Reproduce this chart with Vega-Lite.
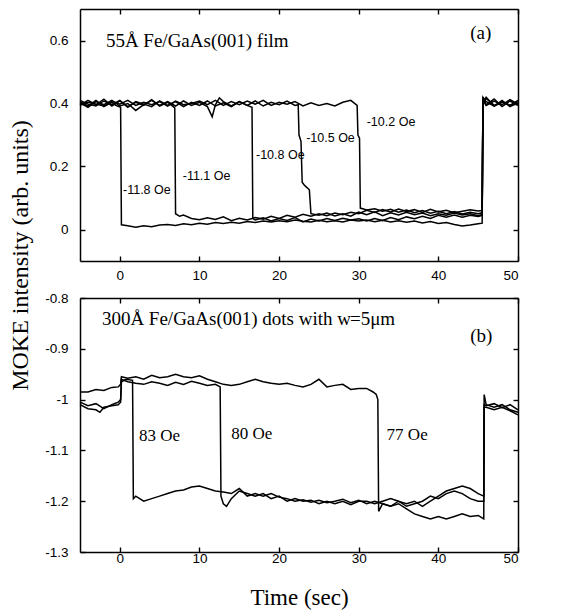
{
  "$schema": "https://vega.github.io/schema/vega-lite/v6.json",
  "background": "white",
  "padding": {"left": 8, "top": 8, "right": 5, "bottom": 5},
  "bounds": "flush",
  "spacing": 37,
  "config": {
    "view": {"stroke": null},
    "axis": {
      "labelFont": "Liberation Sans", "labelFontSize": 13.5, "labelColor": "black",
      "tickColor": "black", "tickSize": -5, "tickWidth": 1.4, "domain": true, "domainColor": "black", "domainWidth": 1.5, "grid": false,
      "titleFont": "Liberation Serif", "titleFontWeight": "normal", "titleColor": "black",
      "labelExpr": "datum.value < 0 ? '-' + format(-datum.value, '~g') : format(datum.value, '~g')"
    }
  },
  "datasets": {
    "a": [
      {"s":"a1","x":-5,"y":0.406},{"s":"a1","x":-4,"y":0.392},{"s":"a1","x":-3,"y":0.41},{"s":"a1","x":-2,"y":0.39},{"s":"a1","x":-1,"y":0.404},{"s":"a1","x":-0.5,"y":0.394},{"s":"a1","x":0.1,"y":0.388},{"s":"a1","x":0.2,"y":0.015},{"s":"a1","x":1,"y":0.012},{"s":"a1","x":2,"y":0.007},{"s":"a1","x":3,"y":0.012},{"s":"a1","x":4,"y":0.009},{"s":"a1","x":5,"y":0.014},{"s":"a1","x":6,"y":0.016},{"s":"a1","x":7,"y":0.013},{"s":"a1","x":8,"y":0.018},{"s":"a1","x":9,"y":0.015},{"s":"a1","x":10,"y":0.02},{"s":"a1","x":11,"y":0.017},{"s":"a1","x":12,"y":0.022},{"s":"a1","x":13,"y":0.019},{"s":"a1","x":14,"y":0.023},{"s":"a1","x":15,"y":0.02},{"s":"a1","x":16,"y":0.025},{"s":"a1","x":17,"y":0.022},{"s":"a1","x":18,"y":0.027},{"s":"a1","x":19,"y":0.024},{"s":"a1","x":20,"y":0.028},{"s":"a1","x":21,"y":0.025},{"s":"a1","x":22,"y":0.03},{"s":"a1","x":23,"y":0.026},{"s":"a1","x":24,"y":0.024},{"s":"a1","x":25,"y":0.029},{"s":"a1","x":26,"y":0.025},{"s":"a1","x":27,"y":0.028},{"s":"a1","x":28,"y":0.024},{"s":"a1","x":29,"y":0.03},{"s":"a1","x":30,"y":0.027},{"s":"a1","x":31,"y":0.03},{"s":"a1","x":32,"y":0.025},{"s":"a1","x":33,"y":0.029},{"s":"a1","x":34,"y":0.024},{"s":"a1","x":35,"y":0.028},{"s":"a1","x":36,"y":0.023},{"s":"a1","x":37,"y":0.027},{"s":"a1","x":38,"y":0.021},{"s":"a1","x":39,"y":0.025},{"s":"a1","x":40,"y":0.019},{"s":"a1","x":41,"y":0.022},{"s":"a1","x":42,"y":0.016},{"s":"a1","x":43,"y":0.011},{"s":"a1","x":44,"y":0.014},{"s":"a1","x":45,"y":0.018},{"s":"a1","x":45.5,"y":0.02},{"s":"a1","x":45.6,"y":0.42},{"s":"a1","x":46,"y":0.406},{"s":"a1","x":47,"y":0.392},{"s":"a1","x":48,"y":0.41},{"s":"a1","x":49,"y":0.39},{"s":"a1","x":50,"y":0.402},
      {"s":"a2","x":-5,"y":0.394},{"s":"a2","x":-4,"y":0.41},{"s":"a2","x":-3,"y":0.396},{"s":"a2","x":-2,"y":0.414},{"s":"a2","x":-1,"y":0.392},{"s":"a2","x":0,"y":0.408},{"s":"a2","x":1,"y":0.39},{"s":"a2","x":2,"y":0.404},{"s":"a2","x":3,"y":0.394},{"s":"a2","x":4,"y":0.412},{"s":"a2","x":5,"y":0.392},{"s":"a2","x":6,"y":0.404},{"s":"a2","x":6.9,"y":0.386},{"s":"a2","x":7,"y":0.05},{"s":"a2","x":7.5,"y":0.042},{"s":"a2","x":8,"y":0.046},{"s":"a2","x":9,"y":0.035},{"s":"a2","x":10,"y":0.031},{"s":"a2","x":11,"y":0.037},{"s":"a2","x":12,"y":0.032},{"s":"a2","x":13,"y":0.04},{"s":"a2","x":14,"y":0.028},{"s":"a2","x":15,"y":0.036},{"s":"a2","x":16,"y":0.03},{"s":"a2","x":17,"y":0.038},{"s":"a2","x":18,"y":0.033},{"s":"a2","x":19,"y":0.042},{"s":"a2","x":20,"y":0.035},{"s":"a2","x":21,"y":0.045},{"s":"a2","x":22,"y":0.039},{"s":"a2","x":23,"y":0.048},{"s":"a2","x":24,"y":0.042},{"s":"a2","x":25,"y":0.05},{"s":"a2","x":26,"y":0.044},{"s":"a2","x":27,"y":0.052},{"s":"a2","x":28,"y":0.047},{"s":"a2","x":29,"y":0.055},{"s":"a2","x":30,"y":0.05},{"s":"a2","x":31,"y":0.061},{"s":"a2","x":32,"y":0.054},{"s":"a2","x":33,"y":0.063},{"s":"a2","x":34,"y":0.056},{"s":"a2","x":35,"y":0.065},{"s":"a2","x":36,"y":0.057},{"s":"a2","x":37,"y":0.063},{"s":"a2","x":38,"y":0.054},{"s":"a2","x":39,"y":0.064},{"s":"a2","x":40,"y":0.056},{"s":"a2","x":41,"y":0.061},{"s":"a2","x":42,"y":0.053},{"s":"a2","x":43,"y":0.058},{"s":"a2","x":44,"y":0.063},{"s":"a2","x":45,"y":0.059},{"s":"a2","x":45.5,"y":0.06},{"s":"a2","x":45.6,"y":0.42},{"s":"a2","x":46,"y":0.396},{"s":"a2","x":47,"y":0.414},{"s":"a2","x":48,"y":0.39},{"s":"a2","x":49,"y":0.408},{"s":"a2","x":50,"y":0.394},
      {"s":"a3","x":-5,"y":0.402},{"s":"a3","x":-4,"y":0.388},{"s":"a3","x":-3,"y":0.406},{"s":"a3","x":-2,"y":0.396},{"s":"a3","x":-1,"y":0.41},{"s":"a3","x":0,"y":0.392},{"s":"a3","x":1,"y":0.4},{"s":"a3","x":2,"y":0.378},{"s":"a3","x":3,"y":0.396},{"s":"a3","x":4,"y":0.41},{"s":"a3","x":5,"y":0.394},{"s":"a3","x":6,"y":0.406},{"s":"a3","x":7,"y":0.392},{"s":"a3","x":8,"y":0.408},{"s":"a3","x":9,"y":0.394},{"s":"a3","x":10,"y":0.404},{"s":"a3","x":11,"y":0.39},{"s":"a3","x":11.6,"y":0.358},{"s":"a3","x":12,"y":0.396},{"s":"a3","x":12.5,"y":0.418},{"s":"a3","x":13,"y":0.406},{"s":"a3","x":14,"y":0.392},{"s":"a3","x":15,"y":0.406},{"s":"a3","x":16,"y":0.394},{"s":"a3","x":16.6,"y":0.388},{"s":"a3","x":16.7,"y":0.035},{"s":"a3","x":17,"y":0.03},{"s":"a3","x":18,"y":0.037},{"s":"a3","x":19,"y":0.027},{"s":"a3","x":20,"y":0.035},{"s":"a3","x":21,"y":0.029},{"s":"a3","x":22,"y":0.038},{"s":"a3","x":23,"y":0.024},{"s":"a3","x":24,"y":0.033},{"s":"a3","x":25,"y":0.027},{"s":"a3","x":26,"y":0.035},{"s":"a3","x":27,"y":0.029},{"s":"a3","x":28,"y":0.036},{"s":"a3","x":29,"y":0.03},{"s":"a3","x":30,"y":0.034},{"s":"a3","x":31,"y":0.027},{"s":"a3","x":32,"y":0.035},{"s":"a3","x":33,"y":0.029},{"s":"a3","x":34,"y":0.038},{"s":"a3","x":35,"y":0.031},{"s":"a3","x":36,"y":0.04},{"s":"a3","x":37,"y":0.034},{"s":"a3","x":38,"y":0.042},{"s":"a3","x":39,"y":0.035},{"s":"a3","x":40,"y":0.045},{"s":"a3","x":41,"y":0.039},{"s":"a3","x":42,"y":0.046},{"s":"a3","x":43,"y":0.039},{"s":"a3","x":44,"y":0.045},{"s":"a3","x":45,"y":0.041},{"s":"a3","x":45.5,"y":0.045},{"s":"a3","x":45.6,"y":0.4},{"s":"a3","x":46,"y":0.416},{"s":"a3","x":47,"y":0.394},{"s":"a3","x":48,"y":0.406},{"s":"a3","x":49,"y":0.394},{"s":"a3","x":50,"y":0.41},
      {"s":"a4","x":-5,"y":0.41},{"s":"a4","x":-4,"y":0.398},{"s":"a4","x":-3,"y":0.392},{"s":"a4","x":-2,"y":0.408},{"s":"a4","x":-1,"y":0.396},{"s":"a4","x":0,"y":0.41},{"s":"a4","x":1,"y":0.388},{"s":"a4","x":2,"y":0.406},{"s":"a4","x":3,"y":0.398},{"s":"a4","x":4,"y":0.39},{"s":"a4","x":5,"y":0.408},{"s":"a4","x":6,"y":0.394},{"s":"a4","x":7,"y":0.406},{"s":"a4","x":8,"y":0.39},{"s":"a4","x":9,"y":0.404},{"s":"a4","x":10,"y":0.394},{"s":"a4","x":11,"y":0.408},{"s":"a4","x":12,"y":0.392},{"s":"a4","x":13,"y":0.402},{"s":"a4","x":14,"y":0.39},{"s":"a4","x":15,"y":0.406},{"s":"a4","x":16,"y":0.394},{"s":"a4","x":17,"y":0.408},{"s":"a4","x":18,"y":0.392},{"s":"a4","x":19,"y":0.404},{"s":"a4","x":20,"y":0.396},{"s":"a4","x":21,"y":0.408},{"s":"a4","x":22,"y":0.394},{"s":"a4","x":22.4,"y":0.396},{"s":"a4","x":22.5,"y":0.3},{"s":"a4","x":22.75,"y":0.28},{"s":"a4","x":22.9,"y":0.15},{"s":"a4","x":23.2,"y":0.14},{"s":"a4","x":23.8,"y":0.126},{"s":"a4","x":24,"y":0.05},{"s":"a4","x":25,"y":0.045},{"s":"a4","x":26,"y":0.052},{"s":"a4","x":27,"y":0.043},{"s":"a4","x":28,"y":0.05},{"s":"a4","x":29,"y":0.042},{"s":"a4","x":30,"y":0.055},{"s":"a4","x":31,"y":0.047},{"s":"a4","x":32,"y":0.056},{"s":"a4","x":33,"y":0.044},{"s":"a4","x":34,"y":0.053},{"s":"a4","x":35,"y":0.046},{"s":"a4","x":36,"y":0.055},{"s":"a4","x":37,"y":0.047},{"s":"a4","x":38,"y":0.052},{"s":"a4","x":39,"y":0.044},{"s":"a4","x":40,"y":0.05},{"s":"a4","x":41,"y":0.045},{"s":"a4","x":42,"y":0.052},{"s":"a4","x":43,"y":0.046},{"s":"a4","x":44,"y":0.05},{"s":"a4","x":45,"y":0.044},{"s":"a4","x":45.5,"y":0.048},{"s":"a4","x":45.6,"y":0.41},{"s":"a4","x":46,"y":0.394},{"s":"a4","x":47,"y":0.408},{"s":"a4","x":48,"y":0.396},{"s":"a4","x":49,"y":0.412},{"s":"a4","x":50,"y":0.398},
      {"s":"a5","x":-5,"y":0.396},{"s":"a5","x":-4,"y":0.404},{"s":"a5","x":-3,"y":0.398},{"s":"a5","x":-2,"y":0.392},{"s":"a5","x":-1,"y":0.408},{"s":"a5","x":0,"y":0.398},{"s":"a5","x":1,"y":0.41},{"s":"a5","x":2,"y":0.394},{"s":"a5","x":3,"y":0.404},{"s":"a5","x":4,"y":0.396},{"s":"a5","x":5,"y":0.406},{"s":"a5","x":6,"y":0.392},{"s":"a5","x":7,"y":0.408},{"s":"a5","x":8,"y":0.396},{"s":"a5","x":9,"y":0.4},{"s":"a5","x":10,"y":0.408},{"s":"a5","x":11,"y":0.396},{"s":"a5","x":12,"y":0.41},{"s":"a5","x":13,"y":0.394},{"s":"a5","x":14,"y":0.406},{"s":"a5","x":15,"y":0.396},{"s":"a5","x":16,"y":0.408},{"s":"a5","x":17,"y":0.398},{"s":"a5","x":18,"y":0.41},{"s":"a5","x":19,"y":0.394},{"s":"a5","x":20,"y":0.404},{"s":"a5","x":21,"y":0.398},{"s":"a5","x":22,"y":0.406},{"s":"a5","x":23,"y":0.392},{"s":"a5","x":24,"y":0.402},{"s":"a5","x":25,"y":0.394},{"s":"a5","x":26,"y":0.4},{"s":"a5","x":27,"y":0.392},{"s":"a5","x":28,"y":0.404},{"s":"a5","x":29,"y":0.41},{"s":"a5","x":29.8,"y":0.394},{"s":"a5","x":29.9,"y":0.3},{"s":"a5","x":30.1,"y":0.29},{"s":"a5","x":30.2,"y":0.068},{"s":"a5","x":31,"y":0.062},{"s":"a5","x":32,"y":0.066},{"s":"a5","x":33,"y":0.058},{"s":"a5","x":34,"y":0.064},{"s":"a5","x":35,"y":0.055},{"s":"a5","x":36,"y":0.062},{"s":"a5","x":37,"y":0.053},{"s":"a5","x":38,"y":0.06},{"s":"a5","x":39,"y":0.052},{"s":"a5","x":40,"y":0.058},{"s":"a5","x":41,"y":0.05},{"s":"a5","x":42,"y":0.057},{"s":"a5","x":43,"y":0.049},{"s":"a5","x":44,"y":0.055},{"s":"a5","x":45,"y":0.05},{"s":"a5","x":45.5,"y":0.053},{"s":"a5","x":45.6,"y":0.405},{"s":"a5","x":46,"y":0.42},{"s":"a5","x":47,"y":0.392},{"s":"a5","x":48,"y":0.404},{"s":"a5","x":49,"y":0.394},{"s":"a5","x":50,"y":0.406}
    ],
    "b": [
      {"s":"b1","x":-5,"y":-1.005},{"s":"b1","x":-4,"y":-1.012},{"s":"b1","x":-3,"y":-1.008},{"s":"b1","x":-2,"y":-1.018},{"s":"b1","x":-1,"y":-1.01},{"s":"b1","x":-0.2,"y":-1.005},{"s":"b1","x":0.1,"y":-1.0},{"s":"b1","x":0.2,"y":-0.965},{"s":"b1","x":0.8,"y":-0.96},{"s":"b1","x":1.6,"y":-0.962},{"s":"b1","x":1.7,"y":-1.195},{"s":"b1","x":2,"y":-1.19},{"s":"b1","x":3,"y":-1.2},{"s":"b1","x":4,"y":-1.195},{"s":"b1","x":5,"y":-1.19},{"s":"b1","x":6,"y":-1.185},{"s":"b1","x":7,"y":-1.18},{"s":"b1","x":8,"y":-1.178},{"s":"b1","x":9,"y":-1.172},{"s":"b1","x":10,"y":-1.17},{"s":"b1","x":11,"y":-1.175},{"s":"b1","x":12,"y":-1.18},{"s":"b1","x":13,"y":-1.182},{"s":"b1","x":14,"y":-1.185},{"s":"b1","x":15,"y":-1.175},{"s":"b1","x":16,"y":-1.19},{"s":"b1","x":17,"y":-1.185},{"s":"b1","x":18,"y":-1.19},{"s":"b1","x":19,"y":-1.185},{"s":"b1","x":20,"y":-1.192},{"s":"b1","x":21,"y":-1.195},{"s":"b1","x":22,"y":-1.2},{"s":"b1","x":23,"y":-1.197},{"s":"b1","x":24,"y":-1.202},{"s":"b1","x":25,"y":-1.198},{"s":"b1","x":26,"y":-1.203},{"s":"b1","x":27,"y":-1.2},{"s":"b1","x":28,"y":-1.196},{"s":"b1","x":29,"y":-1.203},{"s":"b1","x":30,"y":-1.198},{"s":"b1","x":31,"y":-1.205},{"s":"b1","x":32,"y":-1.2},{"s":"b1","x":33,"y":-1.205},{"s":"b1","x":34,"y":-1.21},{"s":"b1","x":35,"y":-1.2},{"s":"b1","x":36,"y":-1.205},{"s":"b1","x":37,"y":-1.2},{"s":"b1","x":38,"y":-1.21},{"s":"b1","x":39,"y":-1.2},{"s":"b1","x":40,"y":-1.19},{"s":"b1","x":41,"y":-1.18},{"s":"b1","x":42,"y":-1.175},{"s":"b1","x":43,"y":-1.17},{"s":"b1","x":44,"y":-1.175},{"s":"b1","x":45,"y":-1.185},{"s":"b1","x":45.7,"y":-1.19},{"s":"b1","x":45.75,"y":-0.99},{"s":"b1","x":46,"y":-1.01},{"s":"b1","x":47,"y":-1.015},{"s":"b1","x":48,"y":-1.01},{"s":"b1","x":49,"y":-1.02},{"s":"b1","x":50,"y":-1.025},
      {"s":"b2","x":-5,"y":-1.01},{"s":"b2","x":-4,"y":-1.018},{"s":"b2","x":-3,"y":-1.02},{"s":"b2","x":-2.5,"y":-1.025},{"s":"b2","x":-2,"y":-1.015},{"s":"b2","x":-1,"y":-1.012},{"s":"b2","x":-0.2,"y":-1.01},{"s":"b2","x":0.1,"y":-1.005},{"s":"b2","x":0.2,"y":-0.96},{"s":"b2","x":1,"y":-0.965},{"s":"b2","x":2,"y":-0.968},{"s":"b2","x":3,"y":-0.97},{"s":"b2","x":4,"y":-0.965},{"s":"b2","x":5,"y":-0.968},{"s":"b2","x":6,"y":-0.972},{"s":"b2","x":7,"y":-0.966},{"s":"b2","x":8,"y":-0.97},{"s":"b2","x":9,"y":-0.964},{"s":"b2","x":10,"y":-0.968},{"s":"b2","x":11,"y":-0.972},{"s":"b2","x":12,"y":-0.97},{"s":"b2","x":12.6,"y":-0.975},{"s":"b2","x":12.7,"y":-1.19},{"s":"b2","x":13,"y":-1.205},{"s":"b2","x":13.4,"y":-1.21},{"s":"b2","x":14,"y":-1.195},{"s":"b2","x":15,"y":-1.18},{"s":"b2","x":16,"y":-1.185},{"s":"b2","x":17,"y":-1.19},{"s":"b2","x":18,"y":-1.185},{"s":"b2","x":19,"y":-1.195},{"s":"b2","x":20,"y":-1.19},{"s":"b2","x":21,"y":-1.2},{"s":"b2","x":22,"y":-1.195},{"s":"b2","x":23,"y":-1.2},{"s":"b2","x":24,"y":-1.198},{"s":"b2","x":25,"y":-1.205},{"s":"b2","x":26,"y":-1.2},{"s":"b2","x":27,"y":-1.205},{"s":"b2","x":28,"y":-1.2},{"s":"b2","x":29,"y":-1.207},{"s":"b2","x":30,"y":-1.2},{"s":"b2","x":31,"y":-1.2},{"s":"b2","x":32,"y":-1.205},{"s":"b2","x":33,"y":-1.2},{"s":"b2","x":34,"y":-1.195},{"s":"b2","x":35,"y":-1.2},{"s":"b2","x":36,"y":-1.21},{"s":"b2","x":37,"y":-1.205},{"s":"b2","x":38,"y":-1.2},{"s":"b2","x":39,"y":-1.19},{"s":"b2","x":40,"y":-1.195},{"s":"b2","x":41,"y":-1.185},{"s":"b2","x":42,"y":-1.18},{"s":"b2","x":43,"y":-1.185},{"s":"b2","x":44,"y":-1.195},{"s":"b2","x":45,"y":-1.2},{"s":"b2","x":45.7,"y":-1.2},{"s":"b2","x":45.75,"y":-1.01},{"s":"b2","x":46,"y":-1.012},{"s":"b2","x":47,"y":-1.008},{"s":"b2","x":48,"y":-1.016},{"s":"b2","x":49,"y":-1.01},{"s":"b2","x":50,"y":-1.02},
      {"s":"b3","x":-5,"y":-0.985},{"s":"b3","x":-4,"y":-0.985},{"s":"b3","x":-3,"y":-0.98},{"s":"b3","x":-2,"y":-0.982},{"s":"b3","x":-1,"y":-0.976},{"s":"b3","x":-0.2,"y":-0.975},{"s":"b3","x":0.1,"y":-0.97},{"s":"b3","x":0.2,"y":-0.955},{"s":"b3","x":1,"y":-0.958},{"s":"b3","x":2,"y":-0.955},{"s":"b3","x":3,"y":-0.96},{"s":"b3","x":4,"y":-0.952},{"s":"b3","x":5,"y":-0.957},{"s":"b3","x":6,"y":-0.955},{"s":"b3","x":7,"y":-0.95},{"s":"b3","x":8,"y":-0.955},{"s":"b3","x":9,"y":-0.957},{"s":"b3","x":10,"y":-0.953},{"s":"b3","x":11,"y":-0.96},{"s":"b3","x":12,"y":-0.965},{"s":"b3","x":13,"y":-0.97},{"s":"b3","x":14,"y":-0.972},{"s":"b3","x":15,"y":-0.97},{"s":"b3","x":16,"y":-0.965},{"s":"b3","x":17,"y":-0.96},{"s":"b3","x":18,"y":-0.965},{"s":"b3","x":19,"y":-0.968},{"s":"b3","x":20,"y":-0.97},{"s":"b3","x":21,"y":-0.968},{"s":"b3","x":22,"y":-0.972},{"s":"b3","x":23,"y":-0.975},{"s":"b3","x":24,"y":-0.97},{"s":"b3","x":25,"y":-0.96},{"s":"b3","x":26,"y":-0.975},{"s":"b3","x":27,"y":-0.972},{"s":"b3","x":28,"y":-0.97},{"s":"b3","x":29,"y":-0.98},{"s":"b3","x":30,"y":-0.978},{"s":"b3","x":31,"y":-0.978},{"s":"b3","x":31.8,"y":-0.985},{"s":"b3","x":32.2,"y":-0.99},{"s":"b3","x":32.4,"y":-1.0},{"s":"b3","x":32.5,"y":-1.22},{"s":"b3","x":33,"y":-1.205},{"s":"b3","x":34,"y":-1.21},{"s":"b3","x":35,"y":-1.205},{"s":"b3","x":36,"y":-1.215},{"s":"b3","x":37,"y":-1.225},{"s":"b3","x":38,"y":-1.23},{"s":"b3","x":39,"y":-1.235},{"s":"b3","x":40,"y":-1.23},{"s":"b3","x":41,"y":-1.235},{"s":"b3","x":42,"y":-1.23},{"s":"b3","x":43,"y":-1.225},{"s":"b3","x":44,"y":-1.23},{"s":"b3","x":45,"y":-1.228},{"s":"b3","x":45.7,"y":-1.235},{"s":"b3","x":45.75,"y":-1.015},{"s":"b3","x":46,"y":-1.015},{"s":"b3","x":47,"y":-1.02},{"s":"b3","x":48,"y":-1.015},{"s":"b3","x":49,"y":-1.022},{"s":"b3","x":50,"y":-1.03}
    ]
  },
  "vconcat": [
    {
      "width": 438, "height": 252,
      "layer": [
        {
          "data": {"name": "a"},
          "mark": {"type": "line", "color": "black", "strokeWidth": 1.5},
          "encoding": {
            "x": {"field": "x", "type": "quantitative", "scale": {"domain": [-5, 50], "nice": false, "zero": false},
                  "axis": {"orient": "bottom", "values": [0, 10, 20, 30, 40, 50], "title": null, "labelPadding": 12}},
            "y": {"field": "y", "type": "quantitative", "scale": {"domain": [-0.1, 0.7], "nice": false, "zero": false},
                  "axis": {"orient": "left", "values": [0, 0.2, 0.4, 0.6], "labelPadding": 17,
                           "title": "MOKE intensity (arb. units)", "titleFontSize": 24, "titleX": -60, "titleY": 246,
                           "titleAngle": -90, "titleAlign": "center", "titleBaseline": "middle"}},
            "detail": {"field": "s"}
          }
        },
        {
          "data": {"values": [
            {"x": -1.75, "y": 0.6, "t": "55Å Fe/GaAs(001) film"},
            {"x": 44.0, "y": 0.625, "t": "(a)"}
          ]},
          "mark": {"type": "text", "font": "Liberation Serif", "fontSize": 19, "align": "left", "baseline": "middle", "color": "black"},
          "encoding": {
            "x": {"field": "x", "type": "quantitative", "scale": {"domain": [-5, 50], "nice": false, "zero": false},
                  "axis": {"orient": "top", "values": [0, 10, 20, 30, 40, 50], "labels": false, "title": null}},
            "y": {"field": "y", "type": "quantitative", "scale": {"domain": [-0.1, 0.7], "nice": false, "zero": false},
                  "axis": {"orient": "right", "values": [0, 0.2, 0.4, 0.6], "labels": false, "title": null}},
            "text": {"field": "t"}
          }
        },
        {
          "data": {"values": [
            {"x": 0.4, "y": 0.124, "t": "-11.8 Oe"},
            {"x": 7.9, "y": 0.171, "t": "-11.1 Oe"},
            {"x": 17.1, "y": 0.238, "t": "-10.8 Oe"},
            {"x": 23.4, "y": 0.292, "t": "-10.5 Oe"},
            {"x": 31.0, "y": 0.34, "t": "-10.2 Oe"}
          ]},
          "mark": {"type": "text", "font": "Liberation Sans", "fontSize": 12.5, "align": "left", "baseline": "middle", "color": "black"},
          "encoding": {
            "x": {"field": "x", "type": "quantitative", "scale": {"domain": [-5, 50], "nice": false, "zero": false}, "axis": null},
            "y": {"field": "y", "type": "quantitative", "scale": {"domain": [-0.1, 0.7], "nice": false, "zero": false}, "axis": null},
            "text": {"field": "t"}
          }
        }
      ],
      "resolve": {"axis": {"x": "independent", "y": "independent"}}
    },
    {
      "width": 438, "height": 254,
      "layer": [
        {
          "data": {"name": "b"},
          "mark": {"type": "line", "color": "black", "strokeWidth": 1.5},
          "encoding": {
            "x": {"field": "x", "type": "quantitative", "scale": {"domain": [-5, 50], "nice": false, "zero": false},
                  "axis": {"orient": "bottom", "values": [0, 10, 20, 30, 40, 50], "labelPadding": 4,
                           "title": "Time (sec)", "titleFontSize": 23, "titlePadding": 22}},
            "y": {"field": "y", "type": "quantitative", "scale": {"domain": [-1.3, -0.8], "nice": false, "zero": false},
                  "axis": {"orient": "left", "values": [-1.3, -1.2, -1.1, -1.0, -0.9, -0.8], "labelPadding": 17, "title": null}},
            "detail": {"field": "s"}
          }
        },
        {
          "data": {"values": [
            {"x": -2.25, "y": -0.841, "t": "300Å Fe/GaAs(001) dots with ", "st": "normal"},
            {"x": 27.3, "y": -0.841, "t": "w", "st": "italic"},
            {"x": 28.9, "y": -0.841, "t": "=5μm", "st": "normal"},
            {"x": 44.0, "y": -0.875, "t": "(b)", "st": "normal"},
            {"x": 2.4, "y": -1.071, "t": "83 Oe", "st": "normal"},
            {"x": 14.0, "y": -1.067, "t": "80 Oe", "st": "normal"},
            {"x": 33.5, "y": -1.07, "t": "77 Oe", "st": "normal"}
          ]},
          "mark": {"type": "text", "font": "Liberation Serif", "fontSize": 19, "align": "left", "baseline": "middle", "color": "black"},
          "encoding": {
            "x": {"field": "x", "type": "quantitative", "scale": {"domain": [-5, 50], "nice": false, "zero": false},
                  "axis": {"orient": "top", "values": [0, 10, 20, 30, 40, 50], "labels": false, "title": null}},
            "y": {"field": "y", "type": "quantitative", "scale": {"domain": [-1.3, -0.8], "nice": false, "zero": false},
                  "axis": {"orient": "right", "values": [-1.3, -1.2, -1.1, -1.0, -0.9, -0.8], "labels": false, "title": null}},
            "text": {"field": "t"},
            "fontStyle": {"field": "st", "type": "nominal", "scale": null},
            "size": {"condition": {"test": "indexof(datum.t, 'Oe') >= 0", "value": 17}, "value": 19}
          }
        }
      ],
      "resolve": {"axis": {"x": "independent", "y": "independent"}}
    }
  ]
}
